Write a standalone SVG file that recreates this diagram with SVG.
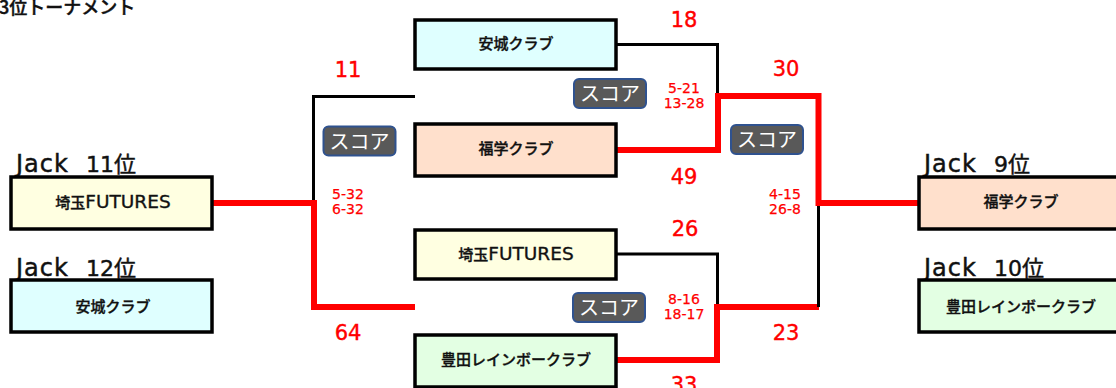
<svg xmlns="http://www.w3.org/2000/svg" width="1116" height="388" viewBox="0 0 1116 388">
<style>
text{font-family:"DejaVu Sans","Noto Sans CJK JP",sans-serif;white-space:pre}
.box{stroke:#000;stroke-width:3.500}
.name{font-size:15px;text-anchor:middle;fill:#111;stroke:#111;stroke-width:.35px;font-weight:500}
.lat{font-size:18.500px}
.rank{font-size:22px;fill:#111;stroke:#111;stroke-width:.45px}
.jk{font-size:24px;letter-spacing:1px}
.sp{font-size:22px;letter-spacing:1.500px}
.pt{font-size:21px;fill:#f00;text-anchor:middle;stroke:#f00;stroke-width:.4px}
.set{font-size:14px;fill:#f00;text-anchor:middle;stroke:#f00;stroke-width:.25px}
.btn{fill:#595959;stroke:#2f528f;stroke-width:2}
.btnt{font-size:20px;fill:#fff;text-anchor:middle;font-family:"Noto Sans CJK JP",sans-serif;font-weight:400}
.ttl{font-size:18px;font-weight:500;fill:#111;stroke:#111;stroke-width:.4px;font-family:"Noto Sans CJK JP",sans-serif}
.b{fill:none;stroke:#000;stroke-width:3}
.r{fill:none;stroke:#f00;stroke-width:6}
</style>
<text class="ttl" x="-1" y="14">3位トーナメント</text>
<g id="connectors">
<path class="b" d="M415 96.500H313.500V202"/>
<path class="r" d="M213 203H314V307H415"/>
<path class="b" d="M617 44.500H717.500V96"/>
<path class="r" d="M615 150H718V96H818.500V203H920"/>
<path class="b" d="M617 254H717.500V307"/>
<path class="r" d="M615 360H717V307H819"/>
<path class="b" d="M818.500 206V307"/>
</g>
<g id="left-1"><text class="rank" x="16" y="172"><tspan class="jk">Jack</tspan><tspan class="sp">  </tspan>11位</text><rect class="box" x="11" y="177" width="201" height="52" fill="#ffffe1"/><text class="name" x="113" y="208">埼玉<tspan class="lat">FUTURES</tspan></text></g>
<g id="left-2"><text class="rank" x="16" y="276"><tspan class="jk">Jack</tspan><tspan class="sp">  </tspan>12位</text><rect class="box" x="11" y="280" width="201" height="52" fill="#dfffff"/><text class="name" x="113" y="312">安城クラブ</text></g>
<g id="mid-1"><rect class="box" x="415" y="20" width="201" height="49" fill="#dfffff"/><text class="name" x="516" y="49">安城クラブ</text></g>
<g id="mid-2"><rect class="box" x="415" y="124" width="201" height="52" fill="#ffe0cc"/><text class="name" x="516" y="154">福学クラブ</text></g>
<g id="mid-3"><rect class="box" x="415" y="230" width="201" height="49" fill="#ffffe1"/><text class="name" x="516" y="260">埼玉<tspan class="lat">FUTURES</tspan></text></g>
<g id="mid-4"><rect class="box" x="415" y="335" width="201" height="52" fill="#e3ffe3"/><text class="name" x="516" y="365">豊田レインボークラブ</text></g>
<g id="right-1"><text class="rank" x="924" y="172"><tspan class="jk">Jack</tspan><tspan class="sp">  </tspan>9位</text><rect class="box" x="919" y="177" width="203" height="52" fill="#ffe0cc"/><text class="name" x="1021" y="207">福学クラブ</text></g>
<g id="right-2"><text class="rank" x="924" y="276"><tspan class="jk">Jack</tspan><tspan class="sp">  </tspan>10位</text><rect class="box" x="919" y="280" width="203" height="52" fill="#e3ffe3"/><text class="name" x="1021" y="312">豊田レインボークラブ</text></g>
<g id="score-1"><rect class="btn" x="323.500" y="126.500" width="72" height="29" rx="5"/><text class="btnt" x="359.500" y="148.500">スコア</text></g>
<g id="score-2"><rect class="btn" x="574" y="79" width="72" height="29" rx="5"/><text class="btnt" x="610" y="101">スコア</text></g>
<g id="score-3"><rect class="btn" x="731" y="125" width="72" height="29" rx="5"/><text class="btnt" x="767" y="147">スコア</text></g>
<g id="score-4"><rect class="btn" x="573" y="293" width="72" height="29" rx="5"/><text class="btnt" x="609" y="315">スコア</text></g>
<g id="points">
<text class="pt" x="348" y="77">11</text><text class="pt" x="348" y="340">64</text>
<text class="pt" x="684" y="27">18</text><text class="pt" x="684" y="184">49</text>
<text class="pt" x="786" y="76">30</text><text class="pt" x="786" y="340">23</text>
<text class="pt" x="685" y="236">26</text><text class="pt" x="684" y="392">33</text>
<text class="set" x="348" y="199">5-32</text><text class="set" x="348" y="214">6-32</text>
<text class="set" x="684" y="93">5-21</text><text class="set" x="684" y="108">13-28</text>
<text class="set" x="785" y="199">4-15</text><text class="set" x="785" y="214">26-8</text>
<text class="set" x="684" y="304">8-16</text><text class="set" x="684" y="319">18-17</text>
</g>
</svg>
